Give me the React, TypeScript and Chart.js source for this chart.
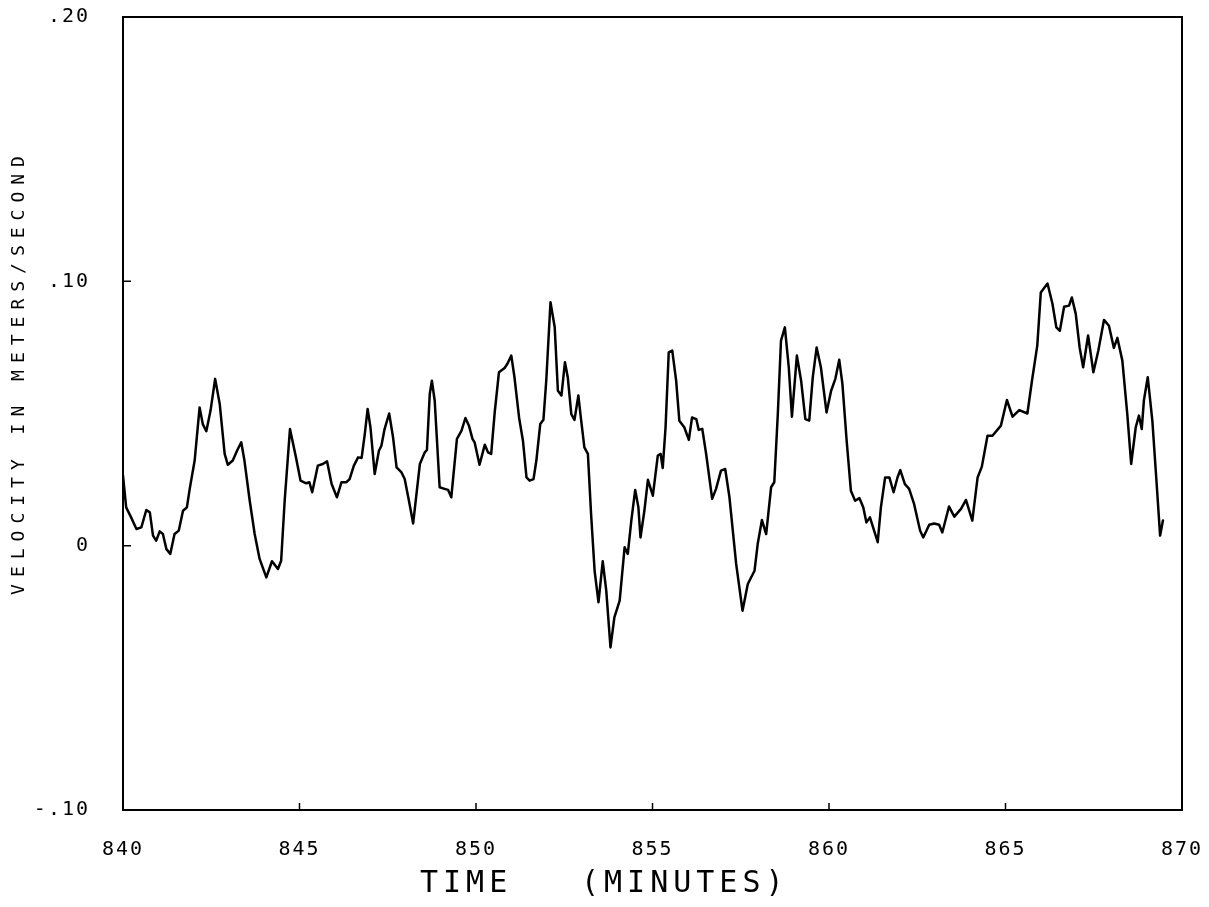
import React, { useEffect, useRef } from 'react';
import { Chart, registerables } from 'chart.js';

Chart.register(...registerables);

const minutes = [
  840.00, 840.09, 840.23, 840.38, 840.52, 840.66, 840.76, 840.85, 840.94, 841.04,
  841.13, 841.23, 841.34, 841.46, 841.58, 841.70, 841.81, 841.89, 842.03, 842.17,
  842.26, 842.36, 842.48, 842.61, 842.74, 842.88, 842.97, 843.11, 843.23, 843.35,
  843.44, 843.59, 843.73, 843.87, 844.06, 844.22, 844.39, 844.48, 844.58, 844.73,
  844.90, 845.03, 845.19, 845.28, 845.36, 845.52, 845.66, 845.78, 845.91, 846.06,
  846.19, 846.33, 846.42, 846.54, 846.66, 846.76, 846.85, 846.93, 847.01, 847.13,
  847.25, 847.32, 847.41, 847.54, 847.65, 847.75, 847.89, 847.98, 848.10, 848.22,
  848.41, 848.55, 848.61, 848.69, 848.75, 848.83, 848.97, 849.11, 849.21, 849.30,
  849.46, 849.59, 849.70, 849.80, 849.90, 849.96, 850.10, 850.25, 850.34, 850.43,
  850.53, 850.65, 850.81, 850.89, 851.00, 851.09, 851.22, 851.33, 851.43, 851.52,
  851.63, 851.71, 851.82, 851.91, 851.99, 852.11, 852.23, 852.32, 852.42, 852.52,
  852.60, 852.70, 852.79, 852.90, 852.98, 853.07, 853.17, 853.26, 853.36, 853.47,
  853.59, 853.69, 853.81, 853.92, 854.07, 854.21, 854.30, 854.40, 854.51, 854.60,
  854.66, 854.77, 854.87, 855.01, 855.15, 855.23, 855.29, 855.37, 855.46, 855.56,
  855.67, 855.76, 855.90, 856.03, 856.12, 856.24, 856.31, 856.41, 856.52, 856.69,
  856.80, 856.94, 857.06, 857.18, 857.37, 857.55, 857.70,
  857.89, 857.98, 858.10, 858.22, 858.36, 858.45, 858.55, 858.64, 858.75, 858.86,
  858.95, 859.09, 859.21, 859.33, 859.44, 859.54, 859.65, 859.77, 859.93, 860.06,
  860.18, 860.29, 860.38, 860.50, 860.62, 860.74, 860.86, 860.97, 861.06, 861.16,
  861.38, 861.47, 861.59, 861.71, 861.83, 861.94, 862.02, 862.15, 862.27, 862.41,
  862.58, 862.67, 862.84, 862.98, 863.12, 863.21, 863.40, 863.55, 863.74, 863.88,
  864.06, 864.21, 864.33, 864.49, 864.63, 864.87, 865.04, 865.20, 865.39, 865.62,
  865.75, 865.90, 866.00, 866.19, 866.33, 866.44, 866.54, 866.66, 866.80, 866.88,
  866.99, 867.10, 867.20, 867.34, 867.49, 867.63, 867.79, 867.93, 868.07, 868.17,
  868.31, 868.45, 868.56, 868.69, 868.78, 868.86, 868.92, 869.03, 869.16, 869.27, 869.38, 869.46,
];

const velocity = [
  0.0265, 0.0145, 0.0107, 0.0063, 0.0069, 0.0135, 0.0126, 0.0038, 0.0019, 0.0054,
  0.0044, -0.0013, -0.0031, 0.0044, 0.0057, 0.0132, 0.0145, 0.0215, 0.0322, 0.0523,
  0.046, 0.0433, 0.0511, 0.0631, 0.0536, 0.0347, 0.0306, 0.0322, 0.0359, 0.0391,
  0.0322, 0.017, 0.0044, -0.005, -0.012, -0.0059, -0.0088, -0.0057, 0.017, 0.0441,
  0.0334, 0.0246, 0.0236, 0.024, 0.0202, 0.0303, 0.0309, 0.0319, 0.0233, 0.0183,
  0.024, 0.024, 0.0252, 0.0303, 0.0334, 0.0332, 0.0423, 0.0517, 0.0448, 0.0271,
  0.0359, 0.0378, 0.0441, 0.05, 0.041, 0.0296, 0.0277, 0.0252, 0.017, 0.0084,
  0.0309, 0.0353, 0.0362, 0.0574, 0.0624, 0.0549, 0.0221, 0.0215, 0.0211, 0.0183,
  0.0404, 0.0435, 0.0483, 0.0454, 0.0404, 0.0391, 0.0306, 0.0382, 0.0353, 0.0347,
  0.0504, 0.0656, 0.0672, 0.0688, 0.0719, 0.0637, 0.0485, 0.0397, 0.0258, 0.0246,
  0.0252, 0.0322, 0.046, 0.0476, 0.0624, 0.0921, 0.0826, 0.0586, 0.0568, 0.0694,
  0.0637, 0.0498, 0.0476, 0.0568, 0.0473, 0.0372, 0.0347, 0.012, -0.0095, -0.0214,
  -0.0059, -0.017, -0.0385, -0.0271, -0.0208, -0.0006, -0.0031, 0.0095, 0.0211, 0.0145,
  0.0031, 0.0132, 0.0249, 0.0189, 0.0341, 0.0347, 0.0294, 0.0448, 0.0731, 0.0738,
  0.0624, 0.0473, 0.0448, 0.04, 0.0485, 0.0479, 0.0438, 0.0442, 0.0347, 0.0177,
  0.0215, 0.0284, 0.029, 0.0183, -0.0069, -0.0246, -0.0145,
  -0.0095, 0.0006, 0.0097, 0.0044, 0.0221, 0.024, 0.0498, 0.0776, 0.0826, 0.0675,
  0.0488, 0.0719, 0.0624, 0.0479, 0.0473, 0.0637, 0.075, 0.0675, 0.0504, 0.0586,
  0.0631, 0.0703, 0.0612, 0.0397, 0.0208, 0.017, 0.018, 0.0145, 0.0088, 0.0107,
  0.0013, 0.0145, 0.0258, 0.0258, 0.0202, 0.0258, 0.0286, 0.0233, 0.0215, 0.0158,
  0.0057, 0.0031, 0.0079, 0.0084, 0.0079, 0.005, 0.0148, 0.011, 0.0139, 0.0173,
  0.0095, 0.0258, 0.0299, 0.0416, 0.0416, 0.0454, 0.0551, 0.0488, 0.0513, 0.05,
  0.0624, 0.0757, 0.0958, 0.0992, 0.0915, 0.0826, 0.0813, 0.0904, 0.0908, 0.0939,
  0.0877, 0.075, 0.0675, 0.0795, 0.0656, 0.0738, 0.0854, 0.0832, 0.0748, 0.0786,
  0.07, 0.0498, 0.0309, 0.0448, 0.0492, 0.0441, 0.0549, 0.0637, 0.0473, 0.0258, 0.0038, 0.0095,
];

const xTickValues = [840, 845, 850, 855, 860, 865, 870];
const xTickLabels = ['840', '845', '850', '855', '860', '865', '870'];
const yTickValues = [-0.1, 0, 0.1, 0.2];
const yTickLabels = ['-.10', '0', '.10', '.20'];
const xInnerTicks = [845, 850, 855, 860, 865];
const yInnerTicks = [0, 0.1];
const yAxisTitle = 'VELOCITY IN METERS/SECOND';
const xAxisTitleWord1 = 'TIME';
const xAxisTitleWord2 = '(MINUTES)';

const FONT = '"DejaVu Sans Mono", "Liberation Mono", monospace';

const plotterPlugin = {
  id: 'plotterFrame',
  beforeDraw(chart: any) {
    chart.ctx.letterSpacing = '2px';
  },
  afterDraw(chart: any) {
    const { ctx, chartArea: a, scales } = chart;
    ctx.save();
    ctx.letterSpacing = '0px';
    ctx.strokeStyle = '#000';
    ctx.lineWidth = 2;
    ctx.strokeRect(a.left, a.top, a.right - a.left, a.bottom - a.top);
    ctx.beginPath();
    xInnerTicks.forEach((v) => {
      const x = scales.x.getPixelForValue(v);
      ctx.moveTo(x, a.bottom);
      ctx.lineTo(x, a.bottom - 7);
    });
    yInnerTicks.forEach((v) => {
      const y = scales.y.getPixelForValue(v);
      ctx.moveTo(a.left, y);
      ctx.lineTo(a.left + 8, y);
    });
    ctx.lineWidth = 1.5;
    ctx.stroke();

    ctx.fillStyle = '#000';
    ctx.font = `18px ${FONT}`;
    ctx.letterSpacing = '7px';
    ctx.translate(19, 372);
    ctx.rotate(-Math.PI / 2);
    ctx.textAlign = 'center';
    ctx.textBaseline = 'middle';
    ctx.fillText(yAxisTitle, 0, 0);
    ctx.restore();

    ctx.save();
    ctx.fillStyle = '#000';
    ctx.font = `30px ${FONT}`;
    ctx.letterSpacing = '5px';
    ctx.textAlign = 'left';
    ctx.textBaseline = 'middle';
    ctx.fillText(xAxisTitleWord1, 420, 884);
    ctx.fillText(xAxisTitleWord2, 581, 884);
    ctx.restore();
    ctx.letterSpacing = '0px';
  },
};

export default function App() {
  const canvasRef = useRef<HTMLCanvasElement | null>(null);

  useEffect(() => {
    if (!canvasRef.current) return;
    const points = minutes.map((t, i) => ({ x: t, y: velocity[i] }));
    const chart = new Chart(canvasRef.current, {
      type: 'line',
      data: {
        datasets: [
          {
            data: points,
            borderColor: '#000',
            borderWidth: 2.5,
            pointRadius: 0,
            tension: 0,
            fill: false,
            borderJoinStyle: 'round',
            borderCapStyle: 'round',
          } as any,
        ],
      },
      options: {
        animation: false,
        responsive: false,
        layout: { padding: { top: 17, right: 27, left: 0, bottom: 0 } },
        plugins: {
          legend: { display: false },
          tooltip: { enabled: false },
          title: { display: false },
        },
        scales: {
          x: {
            type: 'linear',
            min: 840,
            max: 870,
            afterFit: (s: any) => {
              s.height = 97;
              s.paddingLeft = 0;
              s.paddingRight = 0;
              s.paddingTop = 0;
              s.paddingBottom = 0;
            },
            afterBuildTicks: (s: any) => {
              s.ticks = xTickValues.map((value) => ({ value }));
            },
            ticks: {
              padding: 28,
              color: '#000',
              maxRotation: 0,
              autoSkip: false,
              font: { family: FONT, size: 20 },
              callback: (_v: any, i: number) => xTickLabels[i],
            },
            grid: { display: false, drawTicks: false },
            border: { display: false },
          },
          y: {
            type: 'linear',
            min: -0.1,
            max: 0.2,
            afterFit: (s: any) => {
              s.width = 123;
              s.paddingLeft = 0;
              s.paddingRight = 0;
              s.paddingTop = 0;
              s.paddingBottom = 0;
            },
            afterBuildTicks: (s: any) => {
              s.ticks = yTickValues.map((value) => ({ value }));
            },
            ticks: {
              padding: 33,
              color: '#000',
              autoSkip: false,
              font: { family: FONT, size: 20 },
              callback: (_v: any, i: number) => yTickLabels[i],
            },
            grid: { display: false, drawTicks: false },
            border: { display: false },
          },
        },
      } as any,
      plugins: [plotterPlugin],
    });
    return () => chart.destroy();
  }, []);

  return (
    <div style={{ position: 'fixed', left: 0, top: 0, width: 1209, height: 907, background: '#fff' }}>
      <canvas ref={canvasRef} width={1209} height={907} style={{ display: 'block' }} />
    </div>
  );
}
